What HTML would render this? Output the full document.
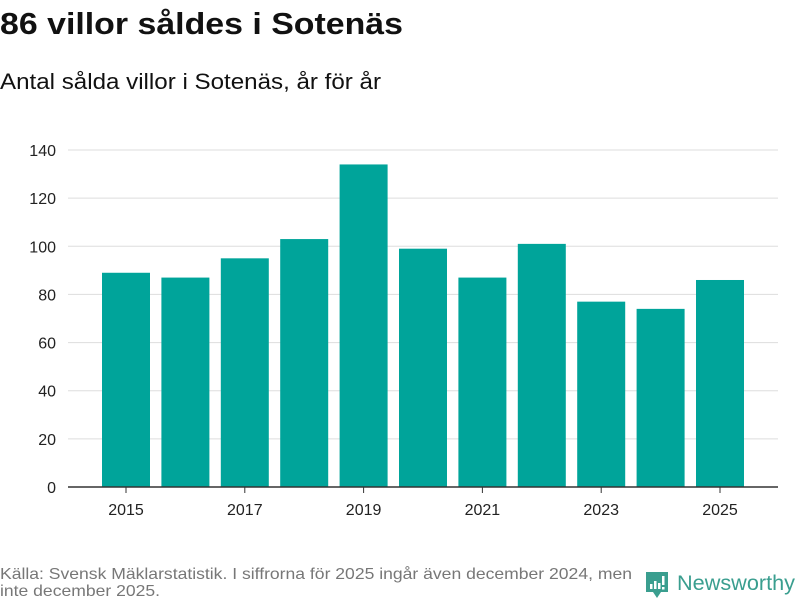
<!DOCTYPE html>
<html><head><meta charset="utf-8"><style>
html,body{margin:0;padding:0;background:#fff;}
svg{display:block;font-family:"Liberation Sans","DejaVu Sans",sans-serif;}
</style></head><body>
<svg id="chart" width="800" height="600">
<text x="0" y="34" font-size="31" font-weight="bold" fill="#111" textLength="403" lengthAdjust="spacingAndGlyphs">86 villor såldes i Sotenäs</text>
<text x="0" y="89" font-size="22" fill="#111" textLength="381" lengthAdjust="spacingAndGlyphs">Antal sålda villor i Sotenäs, år för år</text>
<g id="grid"></g>
<g id="bars"></g>
<g id="xaxis"></g>
<text x="0" y="579" font-size="16" fill="#777" textLength="632" lengthAdjust="spacingAndGlyphs">Källa: Svensk Mäklarstatistik. I siffrorna för 2025 ingår även december 2024, men</text>
<text x="0" y="596" font-size="16" fill="#777" textLength="160" lengthAdjust="spacingAndGlyphs">inte december 2025.</text>
<g>
<path d="M646 572 h22 v20 h-7 l-4 6 l-4 -6 h-7 z" fill="#3a9e8f"/>
<rect x="650" y="584" width="2.5" height="5" fill="#fff"/><rect x="654" y="581" width="2.5" height="8" fill="#fff"/><rect x="658" y="583" width="2.5" height="6" fill="#fff"/><rect x="662" y="576" width="2.5" height="9" fill="#fff"/><rect x="662" y="587" width="2.5" height="2.5" fill="#fff"/>
<text x="677" y="590" font-size="21" fill="#3a9e8f" textLength="118" lengthAdjust="spacingAndGlyphs">Newsworthy</text>
</g>
</svg>
<script>
const categories=["2015","2016","2017","2018","2019","2020","2021","2022","2023","2024","2025"];
const values=[89,87,95,103,134,99,87,101,77,74,86];
const yTicks=[0,20,40,60,80,100,120,140];
const xTickLabels=["2015","2017","2019","2021","2023","2025"];
const NS="http://www.w3.org/2000/svg";
const plotL=68,plotR=778,bandL=96.3,bandR=749.7,y0=487,yTop=150,yMax=140;
const step=(bandR-bandL)/categories.length;
const bw=48;
function yScale(v){return y0-(v/yMax)*(y0-yTop);}
function xCenter(i){return bandL+step*(i+0.5);}
function mk(tag,attrs,parent){const e=document.createElementNS(NS,tag);for(const k in attrs)e.setAttribute(k,attrs[k]);parent.appendChild(e);return e;}
const grid=document.getElementById('grid'),bars=document.getElementById('bars'),xa=document.getElementById('xaxis');
yTicks.forEach(t=>{
  if(t>0){const l=mk('line',{x1:plotL,x2:plotR,y1:yScale(t),y2:yScale(t),stroke:'#ddd','stroke-width':1},grid);
  
  }
  const tx=mk('text',{x:56,y:yScale(t)+6,'font-size':16,fill:'#222','text-anchor':'end'},grid);
  tx.textContent=t;
  
  
});
categories.forEach((c,i)=>{
  const r=mk('rect',{x:xCenter(i)-bw/2,y:yScale(values[i]),width:bw,height:y0-yScale(values[i]),fill:'#00a49a'},bars);
  
  
  if(xTickLabels.includes(c)){
    mk('line',{x1:xCenter(i),x2:xCenter(i),y1:y0,y2:y0+6,stroke:'#333'},xa);
    const tx=mk('text',{x:xCenter(i),y:515,'font-size':16,fill:'#222','text-anchor':'middle'},xa);
    tx.textContent=c;
    
    
  }
});
const base=mk('line',{x1:plotL,x2:plotR,y1:y0,y2:y0,stroke:'#333','stroke-width':1.5},xa);


</script>
</body></html>
